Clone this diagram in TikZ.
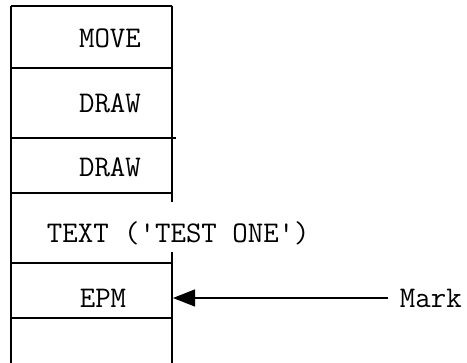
\documentclass[tikz,border=0pt]{standalone}
\usetikzlibrary{arrows.meta,positioning}

\begin{document}
\begin{tikzpicture}[x=1pt,y=-1pt,line width=1.3pt,
  every node/.style={font=\ttfamily\fontsize{30}{34}\selectfont}]
\useasboundingbox (0,0) rectangle (467,363);
\draw (11,6)--(11,363) (172,6)--(172,202) (172,252)--(172,363);
\draw (11,6)--(172,6) (11,68)--(172,68) (11,138)--(176,138) (11,193)--(172,193) (11,263)--(172,263) (11,318)--(172,318);
\node (move) at (110,38) {MOVE};
\node (drawa) at (110,103) {DRAW};
\node (drawb) at (110,167) {DRAW};
\node[anchor=west] (text) at (43,233) {TEXT ('TEST ONE')};
\node (epm) at (103,298) {EPM};
\coordinate (tip) at (173,298);
\node[anchor=west] (mark) at (396,298) {Mark};
\draw[-{Triangle[length=22pt,width=17pt]},shorten <=8pt] (mark.west) -- (tip);
\end{tikzpicture}
\end{document}
